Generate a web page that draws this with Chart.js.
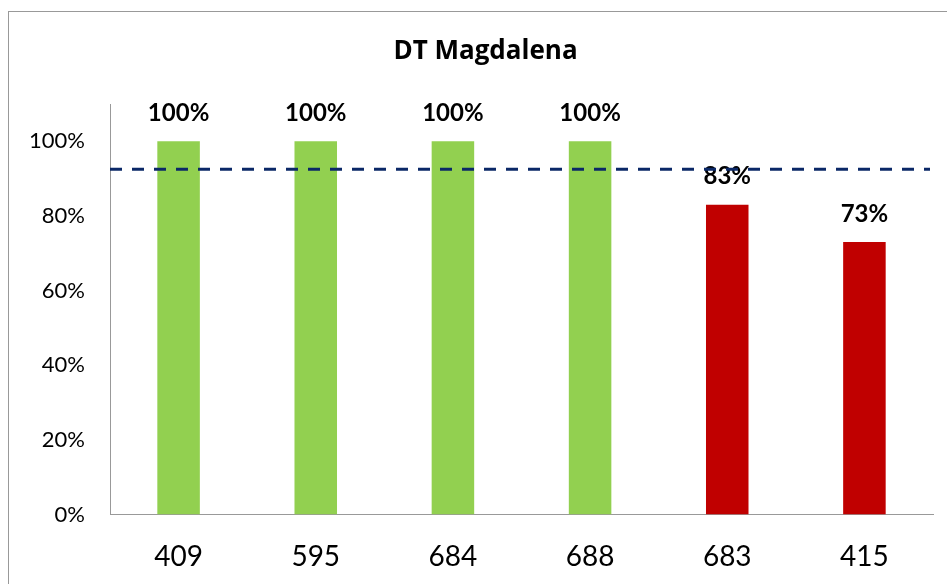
<!DOCTYPE html>
<html>
<head>
<meta charset="utf-8">
<script src="https://cdn.jsdelivr.net/npm/chart.js@4.4.1/dist/chart.umd.min.js"></script>
<style>
    body { margin: 0; background: #fff; }
    #wrap { position: relative; width: 947px; height: 584px; overflow: hidden; }
    #frame { position: absolute; left: 8px; top: 11px; width: 1000px; height: 700px; border: 1px solid #999; pointer-events: none; }
    canvas { position: absolute; left: 0; top: 0; }
</style>
</head>
<body>
<div id="wrap">
    <canvas id="c" width="947" height="584"></canvas>
    <div id="frame"></div>
</div>
<script>
const categories = ['409', '595', '684', '688', '683', '415'];
const values = [1.00, 1.00, 1.00, 1.00, 0.83, 0.73];
const barColors = ['#92D050', '#92D050', '#92D050', '#92D050', '#C00000', '#C00000'];
const target = 0.925;
const yTicks = [0, 0.2, 0.4, 0.6, 0.8, 1.0];

const font = 'Lato, "Open Sans", sans-serif';

// value labels above each bar
const barLabels = {
    id: 'barLabels',
    afterDatasetsDraw(chart) {
        const ctx = chart.ctx;
        const meta = chart.getDatasetMeta(0);
        ctx.save();
        ctx.font = `bold 24px ${font}`;
        ctx.fillStyle = '#000';
        ctx.textAlign = 'center';
        ctx.textBaseline = 'middle';
        meta.data.forEach((bar, i) => {
            ctx.fillText(Math.round(values[i] * 100) + '%', bar.x, bar.y - 28);
        });
        ctx.restore();
    }
};

// dashed target line
const targetLine = {
    id: 'targetLine',
    afterDatasetsDraw(chart) {
        const ctx = chart.ctx;
        const area = chart.chartArea;
        const y = chart.scales.y.getPixelForValue(target);
        ctx.save();
        ctx.strokeStyle = '#0B2867';
        ctx.lineWidth = 3;
        ctx.setLineDash([12, 10]);
        ctx.beginPath();
        ctx.moveTo(area.left, y);
        ctx.lineTo(area.right - 3, y);
        ctx.stroke();
        ctx.restore();
    }
};

// the title sits a bit right of the canvas centre
const titleShift = {
    id: 'titleShift',
    afterLayout(chart) {
        if (chart.titleBlock) chart.titleBlock.left = 38;
    }
};

new Chart(document.getElementById('c'), {
    type: 'bar',
    data: {
        labels: categories,
        datasets: [{
            data: values,
            backgroundColor: barColors,
            barPercentage: 0.31,
            categoryPercentage: 1,
        }]
    },
    options: {
        responsive: false,
        animation: false,
        layout: { padding: { left: 0, right: 14, top: 0, bottom: 0 } },
        plugins: {
            legend: { display: false },
            tooltip: { enabled: false },
            title: {
                display: true,
                text: 'DT Magdalena',
                color: '#000',
                font: { family: '"Open Sans", Lato, sans-serif', size: 26, weight: 'bold', lineHeight: 1.2 },
                padding: { top: 36.4, bottom: 36.4 }
            }
        },
        scales: {
            x: {
                grid: { display: false, drawTicks: false },
                border: { display: true, color: '#999', width: 1 },
                ticks: { color: '#000', font: { family: font, size: 28 }, padding: 26 },
                afterFit(scale) { scale.height = 69.5; }
            },
            y: {
                min: 0,
                max: 1.1,
                grid: { display: false, drawTicks: false },
                border: { display: true, color: '#999', width: 1 },
                afterBuildTicks(scale) { scale.ticks = yTicks.map(v => ({ value: v })); },
                ticks: {
                    color: '#000',
                    font: { family: font, size: 22 },
                    padding: 25,
                    callback: v => Math.round(v * 100) + '%'
                },
                afterFit(scale) { scale.width = 110; }
            }
        }
    },
    plugins: [barLabels, targetLine, titleShift]
});
</script>
</body>
</html>
